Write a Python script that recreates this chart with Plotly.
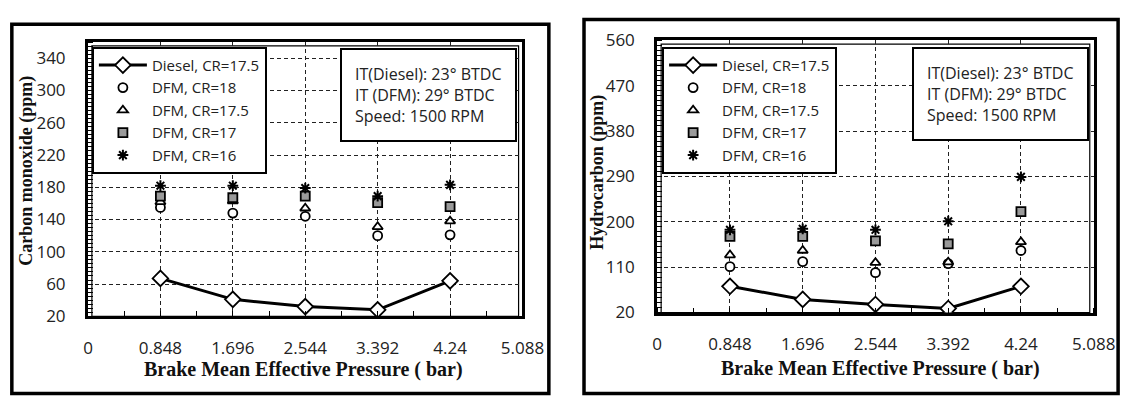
import plotly.graph_objects as go

W, H = 1144, 397

bmep = [0.848, 1.696, 2.544, 3.392, 4.24]
xticks = [0, 0.848, 1.696, 2.544, 3.392, 4.24, 5.088]
xtick_labels = ["0", "0.848", "1.696", "2.544", "3.392", "4.24", "5.088"]

series_names = ["Diesel, CR=17.5", "DFM, CR=18", "DFM, CR=17.5", "DFM, CR=17", "DFM, CR=16"]

# Carbon monoxide (ppm)
co_diesel = [67, 41, 32, 28, 64]
co_cr18 = [155, 148, 144, 120, 121]
co_cr175 = [162, 163, 154, 131, 138]
co_cr17 = [169, 167, 169, 161, 156]
co_cr16 = [182, 182, 179, 169, 183]

# Hydrocarbon (ppm)
hc_diesel = [72, 46, 36, 28, 72]
hc_cr18 = [111, 121, 99, 117, 143]
hc_cr175 = [134, 143, 119, 120, 160]
hc_cr17 = [171, 171, 162, 156, 220]
hc_cr16 = [184, 186, 184, 201, 289]

co_ticks = [20, 60, 100, 140, 180, 220, 260, 300, 340]
hc_ticks = [20, 110, 200, 290, 380, 470, 560]


def px_x(p):
    return p / W


def px_y(p):
    return 1 - p / H


fig = go.Figure()

styles = [
    dict(mode="lines+markers", line=dict(color="black", width=3),
         marker=dict(symbol="diamond", size=12, color="white", line=dict(color="black", width=1.8))),
    dict(mode="markers", marker=dict(symbol="circle", size=9, color="white", line=dict(color="black", width=1.8))),
    dict(mode="markers", marker=dict(symbol="triangle-up", size=9, color="white", line=dict(color="black", width=1.8))),
    dict(mode="markers", marker=dict(symbol="square", size=9, color="#9a9a9a", line=dict(color="black", width=1.8))),
    dict(mode="markers", marker=dict(symbol="asterisk-open", size=9, color="black", line=dict(color="black", width=2))),
]

co_series = [co_diesel, co_cr18, co_cr175, co_cr17, co_cr16]
hc_series = [hc_diesel, hc_cr18, hc_cr175, hc_cr17, hc_cr16]

for name, ys, st in zip(series_names, co_series, styles):
    fig.add_trace(go.Scatter(x=bmep, y=ys, name=name, xaxis="x", yaxis="y", legend="legend", **st))
for name, ys, st in zip(series_names, hc_series, styles):
    fig.add_trace(go.Scatter(x=bmep, y=ys, name=name, xaxis="x2", yaxis="y2", legend="legend2", **st))

sans = "Open Sans, Liberation Sans, sans-serif"
tickfont = dict(family=sans, size=17, color="#222")
grid = dict(showgrid=True, gridcolor="#222", griddash="4px,3px", gridwidth=1)
frame = dict(showline=True, linecolor="black", linewidth=3, mirror=True, zeroline=False, ticks="")

common_x = dict(
    range=[0, 5.088], tickvals=xticks, ticktext=xtick_labels, tickfont=tickfont,
    ticklabelstandoff=14,
    minor=dict(ticks="inside", ticklen=5, tickcolor="black", dtick=0.424, showgrid=False),
    **grid, **frame,
)

legend_common = dict(xanchor="left", yanchor="top", bgcolor="white", bordercolor="black",
                     borderwidth=2, font=dict(family=sans, size=15, color="#222"),
                     tracegroupgap=0, itemwidth=48)

fig.update_layout(
    width=W, height=H,
    margin=dict(l=0, r=0, t=0, b=0),
    paper_bgcolor="white", plot_bgcolor="white",
    showlegend=True,
    xaxis=dict(domain=[px_x(85), px_x(530)], anchor="y", **common_x),
    yaxis=dict(domain=[px_y(323), px_y(32)], anchor="x", range=[20, 360],
               tickvals=co_ticks, tickfont=tickfont, ticklabelstandoff=16,
               minor=dict(ticks="inside", ticklen=5, tickcolor="black", dtick=5, showgrid=False),
               **grid, **frame),
    xaxis2=dict(domain=[px_x(668), px_x(1115)], anchor="y2", **common_x),
    yaxis2=dict(domain=[px_y(319), px_y(30)], anchor="x2", range=[20, 560],
                tickvals=hc_ticks, tickfont=tickfont, ticklabelstandoff=16,
                minor=dict(ticks="inside", ticklen=5, tickcolor="black", dtick=10, showgrid=False),
                **grid, **frame),
    legend=dict(x=px_x(89), y=px_y(37), **legend_common),
    legend2=dict(x=px_x(673), y=px_y(37), **legend_common),
)

info_text = "IT(Diesel): 23° BTDC<br>IT (DFM): 29° BTDC<br>Speed: 1500 RPM"
title_font_x = dict(family="Liberation Serif, Times New Roman, serif", size=20, color="#111")
title_font_y = dict(family="Liberation Serif, Times New Roman, serif", size=18, color="#111")

annotations = [
    dict(x=px_x(524), y=px_y(38), xref="paper", yref="paper", xanchor="right", yanchor="top",
         text=info_text, showarrow=False, align="left", bgcolor="white",
         bordercolor="black", borderwidth=2, borderpad=13,
         font=dict(family=sans, size=16, color="#222")),
    dict(x=px_x(1110), y=px_y(37), xref="paper", yref="paper", xanchor="right", yanchor="top",
         text=info_text, showarrow=False, align="left", bgcolor="white",
         bordercolor="black", borderwidth=2, borderpad=13,
         font=dict(family=sans, size=16, color="#222")),
    dict(x=px_x(306), y=px_y(379), xref="paper", yref="paper", xanchor="center", yanchor="middle",
         text="<b>Brake Mean Effective Pressure ( bar)</b>", showarrow=False, font=title_font_x),
    dict(x=px_x(897), y=px_y(378), xref="paper", yref="paper", xanchor="center", yanchor="middle",
         text="<b>Brake Mean Effective Pressure ( bar)</b>", showarrow=False, font=title_font_x),
    dict(x=px_x(22), y=px_y(168), xref="paper", yref="paper", xanchor="center", yanchor="middle",
         text="<b>Carbon monoxide (ppm)</b>", textangle=-90, showarrow=False, font=title_font_y),
    dict(x=px_x(606), y=px_y(170), xref="paper", yref="paper", xanchor="center", yanchor="middle",
         text="<b>Hydrocarbon (ppm)</b>", textangle=-90, showarrow=False, font=title_font_y),
]
fig.update_layout(annotations=annotations)

shapes = [
    dict(type="rect", xref="paper", yref="paper", x0=px_x(7), x1=px_x(557), y0=px_y(405), y1=px_y(13),
         line=dict(color="black", width=3.5), layer="below"),
    dict(type="rect", xref="paper", yref="paper", x0=px_x(593), x1=px_x(1140), y0=px_y(405), y1=px_y(8),
         line=dict(color="black", width=3.5), layer="below"),
    # inner thin frame lines of the plot areas
    dict(type="rect", xref="paper", yref="paper", x0=px_x(89), x1=px_x(526), y0=px_y(323), y1=px_y(36),
         line=dict(color="black", width=1.2), layer="below"),
    dict(type="rect", xref="paper", yref="paper", x0=px_x(672), x1=px_x(1111), y0=px_y(319), y1=px_y(34),
         line=dict(color="black", width=1.2), layer="below"),
]
fig.update_layout(shapes=shapes)

fig.write_html("out.html")
